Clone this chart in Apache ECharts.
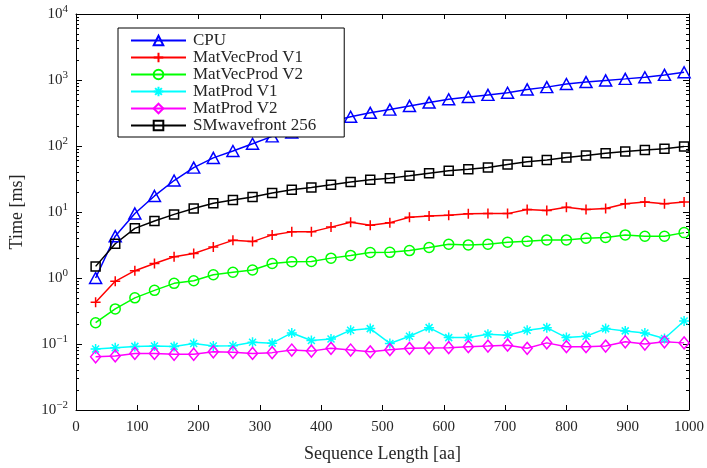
<!DOCTYPE html>
<html>
<head>
<meta charset="utf-8">
<script src="https://cdn.jsdelivr.net/npm/echarts@6/dist/echarts.min.js"></script>
<style>
  html, body { margin: 0; padding: 0; background: #fff; }
  #chart { width: 707px; height: 468px; }
</style>
</head>
<body>
<div id="chart"></div>
<script>
// Sequence lengths (aa) at which every implementation was timed
const seqLength = [32, 64, 96, 128, 160, 192, 224, 256, 288, 320, 352, 384, 416, 448, 480, 512,
  544, 576, 608, 640, 672, 704, 736, 768, 800, 832, 864, 896, 928, 960, 992];

// Running times in milliseconds
const cpuTime = [1.0, 4.3, 9.5, 17.5, 30, 47, 66, 84, 108, 140, 160, 195, 235, 277, 318, 356,
  405, 455, 510, 552, 595, 640, 720, 780, 870, 930, 985, 1040, 1100, 1195, 1310];
const matVecV1Time = [0.43, 0.89, 1.29, 1.66, 2.1, 2.35, 2.96, 3.72, 3.56, 4.5, 5.0, 5.0, 5.9, 7.0, 6.3, 6.9,
  8.3, 8.7, 8.95, 9.4, 9.45, 9.45, 10.9, 10.5, 11.8, 10.9, 11.3, 13.3, 14.2, 13.3, 14.2];
const matVecV2Time = [0.21, 0.34, 0.50, 0.65, 0.83, 0.91, 1.12, 1.22, 1.32, 1.66, 1.76, 1.78, 2.0, 2.2, 2.43, 2.45,
  2.6, 2.9, 3.25, 3.17, 3.24, 3.48, 3.6, 3.78, 3.78, 4.0, 4.1, 4.5, 4.3, 4.3, 4.87];
const matProdV1Time = [0.084, 0.088, 0.092, 0.093, 0.092, 0.102, 0.093, 0.094, 0.106, 0.103, 0.147, 0.113, 0.119, 0.162, 0.171, 0.102,
  0.131, 0.177, 0.125, 0.125, 0.141, 0.136, 0.162, 0.177, 0.125, 0.131, 0.171, 0.158, 0.147, 0.121, 0.223];
const matProdV2Time = [0.064, 0.066, 0.072, 0.072, 0.070, 0.070, 0.076, 0.075, 0.072, 0.074, 0.081, 0.078, 0.086, 0.081, 0.076, 0.082,
  0.086, 0.087, 0.088, 0.091, 0.093, 0.096, 0.086, 0.104, 0.091, 0.091, 0.093, 0.108, 0.100, 0.108, 0.104];
const smWavefrontTime = [1.5, 3.3, 5.65, 7.3, 9.2, 11.3, 13.6, 15.2, 16.9, 19.4, 21.8, 23.6, 25.9, 28.5, 30.8, 32.6,
  35.4, 38.8, 42, 44.3, 47.1, 52.4, 57.5, 61.5, 66.7, 71.6, 77.5, 82.6, 87.3, 90.5, 98];

const seriesNames = ['CPU', 'MatVecProd V1', 'MatVecProd V2', 'MatProd V1', 'MatProd V2', 'SMwavefront 256'];
const seriesColors = ['#0000ff', '#ff0000', '#00ff00', '#00ffff', '#ff00ff', '#000000'];

const FONT = 'Liberation Serif';
const TEXT = '#262626';

// Hollow marker shapes
const PLUS = 'path://M0,5L10,5M5,0L5,10';
const STAR = 'path://M0,5L10,5M5,0L5,10M1.5,1.5L8.5,8.5M1.5,8.5L8.5,1.5';
const DIAMOND = 'path://M5,0L10,6L5,12L0,6Z';

const markers = [
  { symbol: 'triangle', size: [12, 11] },
  { symbol: PLUS, size: 10 },
  { symbol: 'circle', size: 10 },
  { symbol: STAR, size: 10 },
  { symbol: DIAMOND, size: [10, 12] },
  { symbol: 'rect', size: 9 }
];
const allTimes = [cpuTime, matVecV1Time, matVecV2Time, matProdV1Time, matProdV2Time, smWavefrontTime];

// Minor decade ticks 2..9 x 10^k
const minorTicks = [];
for (let k = -2; k < 4; k++) {
  for (let m = 2; m <= 9; m++) minorTicks.push(+(m * Math.pow(10, k)).toPrecision(3));
}

const supMinus = '\u2212';
function decadeLabel(v) {
  const e = Math.round(Math.log10(v));
  return '{b|10}{s|' + (e < 0 ? supMinus + (-e) : e) + '}';
}

const logBase = {
  type: 'log', logBase: 10, min: 0.01, max: 10000,
  splitLine: { show: false }
};

const chart = echarts.init(document.getElementById('chart'));
chart.setOption({
  animation: false,
  backgroundColor: '#fff',
  grid: { left: 76, right: 17, top: 14, bottom: 55 },
  legend: {
    orient: 'vertical',
    left: 118, top: 28,
    itemWidth: 55, itemHeight: 12, itemGap: 0,
    padding: [4, 28, 3, 12],
    backgroundColor: '#fff',
    borderColor: '#000', borderWidth: 1,
    textStyle: { fontFamily: FONT, fontSize: 17, color: TEXT, padding: [0, 0, 0, 2] },
    data: seriesNames
  },
  xAxis: [
    {
      type: 'value', min: 0, max: 1000, interval: 100, position: 'bottom',
      axisLine: { lineStyle: { color: '#000', width: 1 } },
      axisTick: { inside: true, length: 5, lineStyle: { color: '#000' } },
      axisLabel: { fontFamily: FONT, fontSize: 15, color: TEXT, margin: 10, formatter: v => String(v) },
      splitLine: { show: false },
      name: 'Sequence Length [aa]', nameLocation: 'middle', nameGap: 35,
      nameTextStyle: { fontFamily: FONT, fontSize: 18, color: TEXT }
    },
    {
      type: 'value', min: 0, max: 1000, interval: 100, position: 'top',
      axisLine: { lineStyle: { color: '#000', width: 1 } },
      axisTick: { inside: true, length: 5, lineStyle: { color: '#000' } },
      axisLabel: { show: false },
      splitLine: { show: false }
    }
  ],
  yAxis: [
    Object.assign({}, logBase, {
      position: 'left',
      axisLine: { lineStyle: { color: '#000', width: 1 } },
      axisTick: { inside: true, length: 6, lineStyle: { color: '#000' } },
      axisLabel: {
        formatter: decadeLabel, margin: 8,
        rich: {
          b: { fontFamily: FONT, fontSize: 15, color: TEXT },
          s: { fontFamily: FONT, fontSize: 11, color: TEXT, verticalAlign: 'bottom', padding: [0, 0, 9, 0] }
        }
      },
      name: 'Time [ms]', nameLocation: 'middle', nameGap: 50, nameRotate: 90,
      nameTextStyle: { fontFamily: FONT, fontSize: 18, color: TEXT }
    }),
    Object.assign({}, logBase, {
      position: 'left',
      axisLine: { show: false },
      axisTick: { inside: true, length: 3, customValues: minorTicks, lineStyle: { color: '#000' } },
      axisLabel: { show: false }
    }),
    Object.assign({}, logBase, {
      position: 'right',
      axisLine: { show: true, lineStyle: { color: '#000', width: 1 } },
      axisTick: { inside: true, length: 6, lineStyle: { color: '#000' } },
      axisLabel: { show: false }
    }),
    Object.assign({}, logBase, {
      position: 'right',
      axisLine: { show: false },
      axisTick: { inside: true, length: 3, customValues: minorTicks, lineStyle: { color: '#000' } },
      axisLabel: { show: false }
    })
  ],
  series: seriesNames.map((name, i) => ({
    name,
    type: 'line',
    xAxisIndex: 0,
    yAxisIndex: 0,
    data: seqLength.map((x, j) => [x, allTimes[i][j]]),
    symbol: markers[i].symbol,
    symbolSize: markers[i].size,
    showAllSymbol: true,
    lineStyle: { color: seriesColors[i], width: 1.5 },
    itemStyle: { color: 'rgba(0,0,0,0)', borderColor: seriesColors[i], borderWidth: 1.5 },
    emphasis: { disabled: true }
  }))
});
</script>
</body>
</html>
